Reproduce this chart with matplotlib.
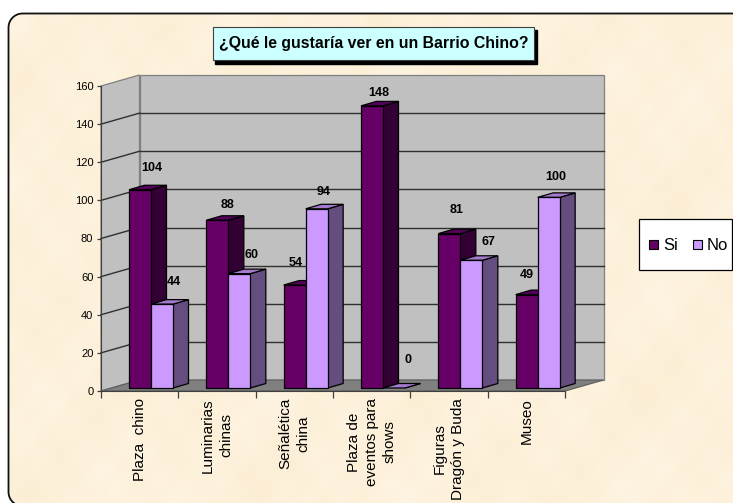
import numpy as np
import matplotlib
matplotlib.use("Agg")
import matplotlib.pyplot as plt
from matplotlib.patches import Polygon, Rectangle

categorias = ["Plaza  chino", "Luminarias\nchinas", "Señalética\nchina",
              "Plaza de\neventos para\nshows", "Figuras\nDragón y Buda", "Museo"]
si = [104, 88, 54, 148, 81, 49]
no = [44, 60, 94, 0, 67, 100]
ticks_y = np.arange(0, 180, 20)
titulo = "¿Qué le gustaría ver en un Barrio Chino?"

# desplazamiento de cada etiqueta respecto a la esquina de su barra (px)
nudge_si = [(23, 22), (21, 15), (12, 22), (18, 13), (18, 24), (11, 20)]
nudge_no = [(23, 22), (23, 19), (18, 17), (25, 28), (28, 18), (18, 20)]

W, H = 733, 503
plt.rcParams["font.family"] = ["Liberation Sans", "DejaVu Sans"]

fig = plt.figure(figsize=(W / 100, H / 100), dpi=100, facecolor="white")

# fondo tipo pergamino, capa en pixeles de la figura
bg = fig.add_axes([0, 0, 1, 1], zorder=0)
bg.set_xlim(0, W)
bg.set_ylim(H, 0)
bg.axis("off")
yy, xx = np.mgrid[0:H, 0:W]
tex = (np.sin(xx / 41.0 + 1.3) * np.cos(yy / 31.0) + 0.7 * np.sin(xx / 17.0 + yy / 23.0)
       + 0.5 * np.cos(xx / 9.0 - yy / 13.0) + 0.4 * np.sin(xx / 5.3 + yy / 6.1))
base = np.array([253, 241, 219]) / 255
img = np.clip(base[None, None, :] + tex[..., None] * np.array([0.001, 0.005, 0.011]), 0, 1)
im = bg.imshow(img, extent=(0, W, H, 0), aspect="auto", zorder=1)

# marco redondeado, sale de la figura por la derecha y por abajo
r = 14
ang = np.linspace(0, np.pi / 2, 12)
izq, arr, aba = 8.5, 13.5, 506
esq_sup = np.c_[izq + r - r * np.cos(ang), arr + r - r * np.sin(ang)]
esq_inf = np.c_[izq + r - r * np.sin(ang), aba - r + r * np.cos(ang)]
pts_marco = np.vstack([[[W + 20, aba]], esq_inf, esq_sup, [[W + 20, arr]]])
marco = Polygon(pts_marco, closed=True, fc="none", ec="#101010", lw=1.3, zorder=2)
bg.add_patch(marco)
im.set_clip_path(marco)

# ejes sobre el plano frontal del grafico
ax = fig.add_axes([101 / W, 1 - 391 / H, 464 / W, 305 / H], zorder=1)
ax.set_xlim(0, 6)
ax.set_ylim(0, 160)
ax.patch.set_alpha(0)
for s in ["top", "right"]:
    ax.spines[s].set_visible(False)
ax.spines["left"].set_color("#404040")
ax.spines["bottom"].set_color("#404040")

px = 6 / 464
py = 160 / 305
dx, dy = 38.5 * px, 11 * py     # fondo de la caja


def poli(pts, fc, ec="black", lw=0.9, z=2):
    ax.add_patch(Polygon(pts, closed=True, fc=fc, ec=ec, lw=lw, zorder=z, clip_on=False))


# paredes y piso
poli([(0, 0), (dx, dy), (dx, 160 + dy), (0, 160)], "#c0c0c0", ec="#808080", z=1)
poli([(dx, dy), (6 + dx, dy), (6 + dx, 160 + dy), (dx, 160 + dy)], "#c0c0c0", ec="#808080", z=1)
poli([(0, 0), (dx, dy), (6 + dx, dy), (6, 0)], "#808080", ec="#606060", z=1)
for v in ticks_y[1:-1]:
    ax.plot([dx, 6 + dx], [v + dy, v + dy], color="#303030", lw=1.0, zorder=1.5, clip_on=False)
    ax.plot([0, dx], [v, v + dy], color="#303030", lw=1.0, zorder=1.5, clip_on=False)

# barras 3D
ancho = 22 * px
off = 28 * px
fy = 3 * py                     # barra adelantada respecto al piso
bx, by = 15.5 * px, 4.5 * py    # profundidad de cada barra


def barra(x0, v, frente, tapa, lado, z):
    y0 = fy
    y1 = fy + v
    x1 = x0 + ancho
    poli([(x1, y0), (x1 + bx, y0 + by), (x1 + bx, y1 + by), (x1, y1)], lado, z=z)
    poli([(x0, y1), (x0 + bx, y1 + by), (x1 + bx, y1 + by), (x1, y1)], tapa, z=z)
    if v > 0:
        poli([(x0, y0), (x1, y0), (x1, y1), (x0, y1)], frente, z=z)


for i in range(len(categorias)):
    x_si = i + off
    x_no = i + off + ancho
    barra(x_si, si[i], "#660066", "#52005a", "#330033", 3 + i)
    barra(x_no, no[i], "#cc99ff", "#a37acc", "#664d80", 3.5 + i)
    ax.text(x_si + nudge_si[i][0] * px, si[i] + fy + nudge_si[i][1] * py, str(si[i]),
            ha="center", va="center", fontsize=9, fontweight="bold", zorder=20)
    ax.text(x_no + nudge_no[i][0] * px, no[i] + fy + nudge_no[i][1] * py, str(no[i]),
            ha="center", va="center", fontsize=9, fontweight="bold", zorder=20)

ax.set_yticks(ticks_y)
ax.set_xticks(np.arange(0, 7))
ax.set_xticklabels([])
ax.tick_params(axis="y", labelsize=8, length=3, width=0.9, pad=2.5, color="#404040")
ax.tick_params(axis="x", length=5, width=0.9, color="#404040")
for i, c in enumerate(categorias):
    ax.annotate(c, (i + 0.5, 0), xytext=(0, -5), textcoords="offset points",
                rotation=90, ha="center", va="top", fontsize=11, linespacing=1.35,
                multialignment="center", annotation_clip=False)

# titulo con sombra
bg2 = fig.add_axes([0, 0, 1, 1], zorder=5)
bg2.set_xlim(0, W)
bg2.set_ylim(H, 0)
bg2.axis("off")
bg2.add_patch(Rectangle((215, 30), 322, 34, fc="black", ec="black"))
bg2.add_patch(Rectangle((213, 27), 321, 33, fc="#ccffff", ec="#404040", lw=0.8))
bg2.text(373.5, 43.5, titulo, ha="center", va="center", fontsize=11.4, fontweight="bold")

# leyenda
bg2.add_patch(Rectangle((639, 219), 93, 51, fc="white", ec="black", lw=0.9))
bg2.add_patch(Rectangle((649, 240), 9, 9, fc="#660066", ec="black", lw=0.8))
bg2.text(663, 245, "Si", ha="left", va="center", fontsize=12)
bg2.add_patch(Rectangle((693, 240), 9, 9, fc="#cc99ff", ec="black", lw=0.8))
bg2.text(707, 245, "No", ha="left", va="center", fontsize=12)

fig.savefig("out.png", dpi=100)
